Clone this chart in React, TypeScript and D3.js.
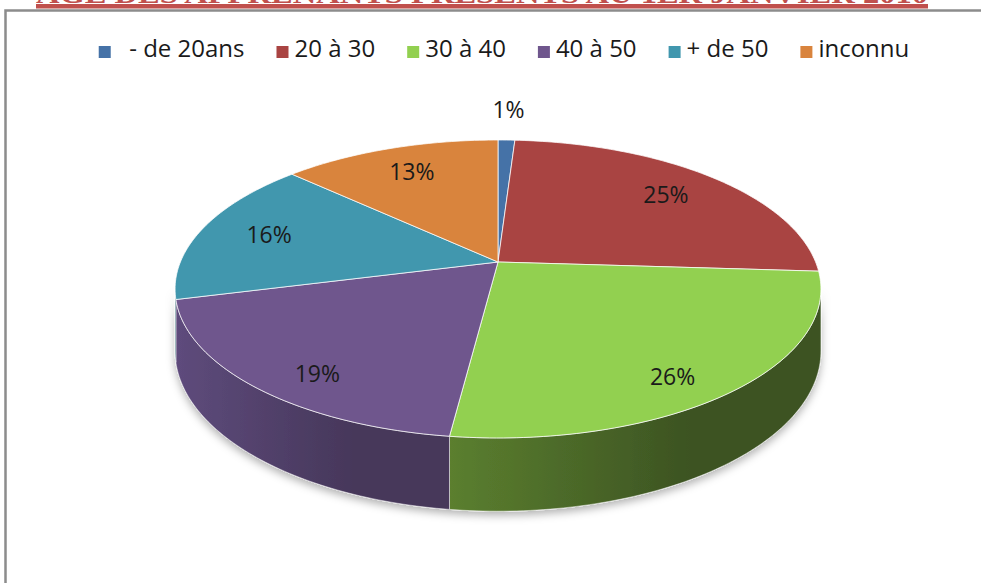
import React, { useEffect, useRef } from "react";
import * as d3 from "d3";

// data
const categories = ["\u00a0\u00a0- de 20ans", "20 à 30", "30 à 40", "40 à 50", "+ de 50", "inconnu"];
const values = [1, 25, 26, 19, 16, 13];
const colors = ["#4572a7", "#a94442", "#92d050", "#6f568d", "#4197ae", "#d9843d"];
const sideLight = ["#355882", "#843532", "#5b7f2f", "#5e4b7c", "#307486", "#a9642c"];
const sideDark = ["#27405f", "#5f2523", "#3c5322", "#46375a", "#235563", "#7c481f"];
const title = "AGE DES APPRENANTS PRESENTS AU 1ER JANVIER 2010";

const W = 981;
const H = 583;

// 3D pie projection
const cx = 498;
const cy = 262;
const RX = 317.6;
const RY = 144.1;
const P = 0.181; // perspective
const DEPTH = 60;

const proj = (theta: number, r = 1, drop = 0): [number, number] => {
  const u = r * Math.sin(theta);
  const v = -r * Math.cos(theta);
  const s = 1 / (1 - P * v);
  return [cx + RX * u * s, cy + RY * v * s + drop * s];
};

const arcPoints = (a0: number, a1: number, drop = 0) => {
  const n = Math.max(2, Math.ceil(((a1 - a0) * 180) / Math.PI));
  return d3.range(n + 1).map((i) => proj(a0 + ((a1 - a0) * i) / n, 1, drop));
};

const App = () => {
  const svgRef = useRef<SVGSVGElement>(null);

  useEffect(() => {
    const svg = d3.select(svgRef.current);
    svg.selectAll("*").remove();

    const defs = svg.append("defs");
    const shadow = defs.append("filter").attr("id", "shadow").attr("x", "-10%").attr("y", "-10%").attr("width", "120%").attr("height", "130%");
    shadow.append("feDropShadow").attr("dx", 0).attr("dy", 4).attr("stdDeviation", 4).attr("flood-color", "#000").attr("flood-opacity", 0.3);

    // frame
    svg.append("path").attr("d", `M5.5,${H} V10.5 H${W}`).attr("fill", "none").attr("stroke", "#8c8c8c").attr("stroke-width", 2.5);

    // title (cut off at the top, as in the picture)
    svg.append("text")
      .attr("x", 36).attr("y", 3)
      .attr("textLength", 892).attr("lengthAdjust", "spacingAndGlyphs")
      .attr("font-family", "'Liberation Serif', serif").attr("font-weight", "bold").attr("font-size", 28)
      .attr("fill", "#c0504d")
      .text(title);
    svg.append("rect").attr("x", 36).attr("y", 4).attr("width", 892).attr("height", 4.5).attr("fill", "#c0504d");

    // legend
    const legend = svg.append("g").attr("font-family", "'Open Sans', sans-serif").attr("font-size", 24).attr("fill", "#1a1a1a");
    const items = legend.selectAll("g").data(categories).join("g");
    items.append("rect").attr("y", 46).attr("width", 12).attr("height", 12).attr("fill", (_, i) => colors[i]);
    const texts = items.append("text").attr("x", 18).attr("y", 57).style("white-space", "pre").text((d) => d);
    const widths = texts.nodes().map((n) => (n as SVGTextElement).getComputedTextLength());
    const gap = 32;
    const total = d3.sum(widths) + widths.length * 18 + gap * (widths.length - 1);
    let x = 504 - total / 2;
    items.attr("transform", (_, i) => {
      const t = `translate(${x},0)`;
      x += 18 + widths[i] + gap;
      return t;
    });

    // pie
    const arcs = d3.pie<number>().sort(null).value((d) => d)(values);
    const thR = Math.acos(-P);
    const thL = 2 * Math.PI - thR;

    const sides = svg.append("g").attr("filter", "url(#shadow)");
    arcs.forEach((a, i) => {
      const s0 = Math.max(a.startAngle, thR);
      const s1 = Math.min(a.endAngle, thL);
      if (s1 <= s0) return;
      const top = arcPoints(s0, s1);
      const bottom = arcPoints(s0, s1, DEPTH).reverse();
      const xs = top.map((p) => p[0]);
      const gid = `side${i}`;
      const g = defs.append("linearGradient").attr("id", gid).attr("gradientUnits", "userSpaceOnUse")
        .attr("x1", d3.min(xs)!).attr("x2", d3.max(xs)!).attr("y1", 0).attr("y2", 0);
      g.append("stop").attr("offset", 0).attr("stop-color", sideLight[i]);
      g.append("stop").attr("offset", 0.65).attr("stop-color", sideDark[i]);
      g.append("stop").attr("offset", 1).attr("stop-color", sideDark[i]);
      sides.append("path")
        .attr("d", "M" + top.concat(bottom).map((p) => p.join(",")).join("L") + "Z")
        .attr("fill", `url(#${gid})`)
        .attr("stroke", "#ffffff").attr("stroke-opacity", 0.6).attr("stroke-width", 0.8);
    });

    const tops = svg.append("g");
    arcs.forEach((a, i) => {
      const pts = [[cx, cy] as [number, number]].concat(arcPoints(a.startAngle, a.endAngle));
      tops.append("path")
        .attr("d", "M" + pts.map((p) => p.join(",")).join("L") + "Z")
        .attr("fill", colors[i])
        .attr("stroke", "#ffffff").attr("stroke-opacity", 0.75).attr("stroke-width", 1)
        .attr("stroke-linejoin", "round");
    });

    // percentage labels
    const sum = d3.sum(values);
    const labels = svg.append("g").attr("font-family", "'Open Sans', sans-serif").attr("font-size", 23).attr("fill", "#1a1a1a").attr("text-anchor", "middle");
    arcs.forEach((a) => {
      const mid = (a.startAngle + a.endAngle) / 2;
      const pct = (a.value / sum) * 100;
      const r = pct < 5 ? 1.3 : 0.77;
      const drop = 25 * Math.max(0, -Math.cos(mid));
      const [lx, ly] = proj(mid, r);
      labels.append("text").attr("x", lx).attr("y", ly + drop).attr("dy", "0.35em").text(`${Math.round(pct)}%`);
    });
  }, []);

  return (
    <svg ref={svgRef} width={W} height={H} style={{ position: "absolute", left: 0, top: 0, background: "#fff" }} />
  );
};

export default App;
